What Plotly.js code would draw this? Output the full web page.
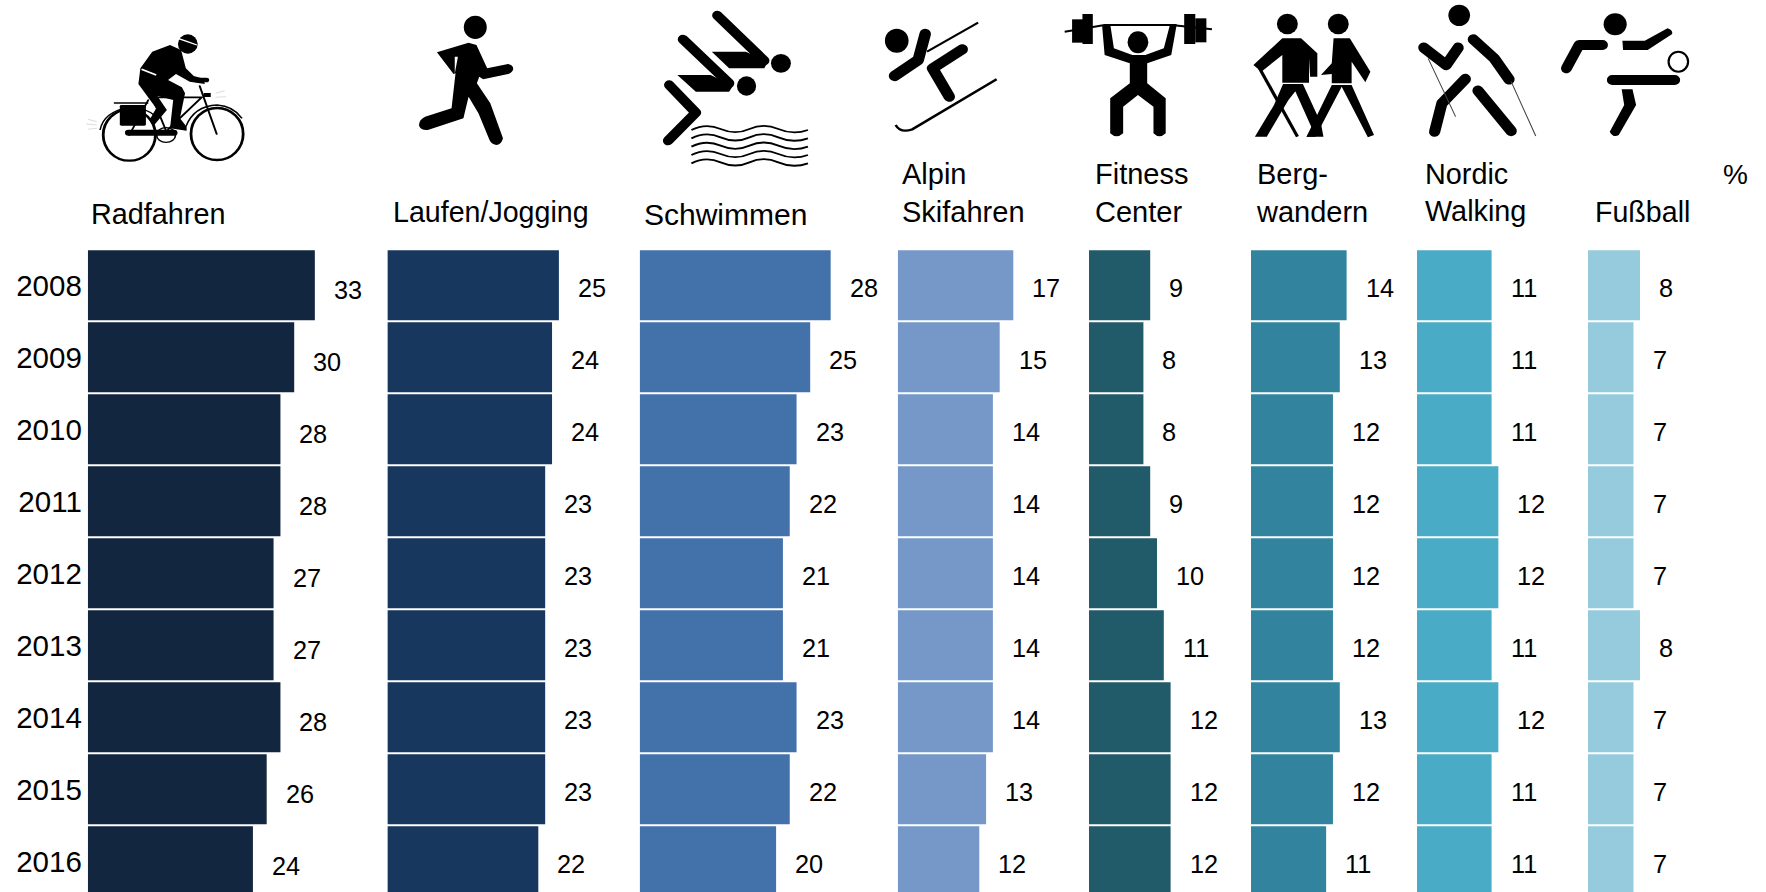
<!DOCTYPE html>
<html>
<head>
<meta charset="utf-8">
<script src="https://cdn.plot.ly/plotly-3.0.1.min.js"></script>
<style>html,body{margin:0;padding:0;background:#fff;overflow:hidden}</style>
</head>
<body>
<div id="chart" style="width:1766px;height:892px"></div>
<script>
const years = ['2008','2009','2010','2011','2012','2013','2014','2015','2016'];
const radfahren = [33,30,28,28,27,27,28,26,24];
const laufen = [25,24,24,23,23,23,23,23,22];
const schwimmen = [28,25,23,22,21,21,23,22,20];
const skifahren = [17,15,14,14,14,14,14,13,12];
const fitness = [9,8,8,9,10,11,12,12,12];
const bergwandern = [14,13,12,12,12,12,13,12,11];
const nordicWalking = [11,11,11,12,12,11,12,11,11];
const fussball = [8,7,7,7,7,8,7,7,7];
const seriesValues = [radfahren,laufen,schwimmen,skifahren,fitness,bergwandern,nordicWalking,fussball];
const seriesNames = ['Radfahren','Laufen/Jogging','Schwimmen','Alpin<br>Skifahren','Fitness<br>Center','Berg-<br>wandern','Nordic<br>Walking','Fußball'];
const colors = ['#12263F','#18375E','#4371A9','#7698C9','#215A68','#32849E','#4AABC6','#95CBDD'];

// layout geometry in page pixels
const W = 1766, H = 892, FONT = '"Liberation Sans", Arial, sans-serif';
const panelLeft = [87.8,387.4,639.7,897.7,1089,1251,1417,1588];
const pxPerUnit = [6.88,6.86,6.82,6.8,6.8,6.83,6.78,6.5];
const titleLeft = [90,392,643,901,1094,1255,1424,1594];
const titleMid = [214,212,214,192.5,192.5,192.5,192.5,212];
const titleSize = [28.8,28.6,30,29,29,29,28.8,28.6];
const labelDrop = [4.5,2.2,2.2,2.2,2.2,2.2,2.2,2.2];
const labelGap = 18;
const rowPitch = 72.0, plotTop = 249.3;

const traces = [], annotations = [];
const layout = {
  width: W, height: H, margin: {l:0,r:0,t:0,b:0,pad:0},
  paper_bgcolor:'#fff', plot_bgcolor:'rgba(0,0,0,0)', showlegend:false,
  bargap: 0.028, font:{family:FONT,color:'#000'},
  yaxis: {
    type:'category', categoryorder:'array', categoryarray:years,
    domain:[0,1-plotTop/H], range:[(H-plotTop)/rowPitch-0.5,-0.5],
    anchor:'x', ticks:'', showgrid:false, zeroline:false, showline:false,
    tickfont:{size:29.5,family:FONT,color:'#000'}, ticklabelstandoff:5, automargin:false
  }
};
seriesValues.forEach((vals,i)=>{
  const k = i===0?'':String(i+1);
  const max = Math.max(...vals)+2;
  layout['xaxis'+k] = {
    domain:[panelLeft[i]/W,(panelLeft[i]+max*pxPerUnit[i])/W], range:[0,max],
    anchor:'y', visible:false, fixedrange:true
  };
  traces.push({type:'bar',orientation:'h',x:vals,y:years,xaxis:'x'+k,yaxis:'y',
    marker:{color:colors[i],line:{width:0}},hoverinfo:'skip'});
  vals.forEach((v,j)=>annotations.push({
    xref:'x'+k,yref:'y',x:v,y:j,text:String(v),showarrow:false,
    xanchor:'left',yanchor:'middle',xshift:labelGap,yshift:-labelDrop[i],borderpad:0,
    font:{size:25.3,family:FONT,color:'#000'}
  }));
  annotations.push({
    xref:'paper',yref:'paper',x:titleLeft[i]/W,y:1-titleMid[i]/H,text:seriesNames[i],
    showarrow:false,xanchor:'left',yanchor:'middle',align:'left',borderpad:0,
    font:{size:titleSize[i],family:FONT,color:'#000'}
  });
});
annotations.push({xref:'paper',yref:'paper',x:1735/W,y:1-174/H,text:'%',showarrow:false,
  xanchor:'center',yanchor:'middle',borderpad:0,font:{size:28,family:FONT,color:'#000'}});
layout.annotations = annotations;

// pictograms: each group is drawn in the coordinates of a view with its own origin/scale
const round = 'fill="none" stroke="#000" stroke-linecap="round" stroke-linejoin="round"';
const pictograms = [
 {ox:0,fx:2.529,body:`
  <ellipse cx="327" cy="405" rx="66" ry="77" fill="none" stroke="#000" stroke-width="7"/>
  <ellipse cx="549" cy="402" rx="66" ry="78" fill="none" stroke="#000" stroke-width="7"/>
  <path d="M253 390 Q262 335 327 322 Q370 322 395 350" fill="none" stroke="#000" stroke-width="4"/>
  <path d="M470 380 Q490 318 549 315 Q590 318 612 355" fill="none" stroke="#000" stroke-width="4"/>
  <rect x="303" y="315" width="66" height="62" rx="4" fill="#000"/>
  <path d="M288 309 H375" stroke="#000" stroke-width="5"/>
  <path d="M378 292 H510 M510 292 L425 388 M385 292 L420 392 M505 258 L548 402 M375 300 L327 405 M320 395 L420 395" ${round} stroke-width="5"/>
  <path d="M325 398 H440" ${round} stroke-width="18"/>
  <ellipse cx="420" cy="405" rx="24" ry="22" fill="none" stroke="#000" stroke-width="4"/>
  <path d="M498 240 H522" ${round} stroke-width="14"/>
  <path d="M515 285 H533" stroke="#000" stroke-width="12"/>
  <path d="M430 135 L458 150 L470 205 L490 228 L515 236 L518 252 L480 245 L445 222 L425 240 L460 262 L468 280 L455 355 L472 380 L472 392 L430 385 L438 300 L398 288 L422 330 L388 378 L378 360 L395 325 L350 252 L355 205 L385 155 Z" fill="#000"/>
  <path d="M358 208 L395 225" stroke="#fff" stroke-width="5"/>
  <ellipse cx="475" cy="132" rx="25" ry="29" fill="#000"/>
  <path d="M450 115 Q475 125 498 135" fill="none" stroke="#fff" stroke-width="4"/>
  <path d="M222 358 L245 365 M218 372 L245 375 M222 388 L245 385 M545 280 L568 272 M545 292 L572 290" stroke="#ddd" stroke-width="3"/>

  <ellipse cx="1202" cy="82" rx="29" ry="35" fill="#000"/>
  <path d="M1105 157 L1185 128 L1205 135 L1232 205 L1285 192 Q1298 195 1298 207 Q1296 218 1285 222 L1222 238 L1212 230 L1206 250 L1240 310 L1272 415 Q1268 435 1255 435 Q1242 432 1238 420 L1210 340 L1185 290 L1172 355 L1082 390 Q1065 392 1060 378 Q1058 360 1075 350 L1142 325 L1152 220 L1147 222 Z" fill="#000"/>
  <path d="M1150 170 L1158 170 L1150 222" fill="#fff"/>
 `},
 {ox:620,fx:2.703,body:`
  <path d="M263 46 L390 182 M170 118 L295 250 M133 255 L205 338 L130 422" ${round} stroke-width="28"/>
  <path d="M248 155 H340 L400 185 L390 205 H295 Z M155 225 H245 L305 258 L295 275 H205 Z" fill="#000"/>
  <ellipse cx="435" cy="190" rx="27" ry="28" fill="#000"/>
  <ellipse cx="342" cy="258" rx="26" ry="29" fill="#000"/>
  <g fill="none" stroke="#000" stroke-width="5.5">
   <path d="M193 390 Q232 368 272 387 T350 387 T428 387 T508 390"/>
   <path d="M193 415 Q232 393 272 412 T350 412 T428 412 T508 415"/>
   <path d="M193 440 Q232 418 272 437 T350 437 T428 437 T508 440"/>
   <path d="M193 465 Q232 443 272 462 T350 462 T428 462 T508 465"/>
   <path d="M193 490 Q232 468 272 487 T350 487 T428 487 T508 490"/>
  </g>

  <ellipse cx="748" cy="122" rx="32" ry="36" fill="#000"/>
  <path d="M825 102 L806 180 L742 228 M925 148 L845 205 L890 290" ${round} stroke-width="31"/>
  <path d="M830 155 L968 68" stroke="#000" stroke-width="6"/>
  <path d="M745 375 Q758 400 790 388 L1018 238" fill="none" stroke="#000" stroke-width="7"/>

  <path d="M1202 95 L1310 75 H1490 L1600 88" fill="none" stroke="#000" stroke-width="6"/>
  <rect x="1222" y="58" width="30" height="70" fill="#000"/><rect x="1250" y="42" width="28" height="90" fill="#000"/>
  <rect x="1525" y="42" width="30" height="90" fill="#000"/><rect x="1555" y="55" width="30" height="72" fill="#000"/>
  <ellipse cx="1400" cy="127" rx="28" ry="33" fill="#000"/>
  <path d="M1303 75 L1325 72 L1335 145 L1385 165 H1420 L1470 145 L1487 72 L1505 72 L1490 165 L1425 190 V250 L1475 295 V400 Q1458 418 1442 400 V320 L1400 285 L1360 320 V400 Q1342 418 1325 400 V295 L1378 250 V190 L1310 165 Z" fill="#000"/>
 `},
 {ox:1200,fx:2.77,body:`
  <ellipse cx="242" cy="72" rx="29" ry="31" fill="#000"/><ellipse cx="383" cy="72" rx="29" ry="31" fill="#000"/>
  <path d="M228 115 H280 L325 160 V230 H305 L302 175 V248 H228 V165 L170 215 L148 195 Z" fill="#000"/>
  <path d="M230 252 H280 L245 300 L185 410 H152 L205 315 Z M255 252 H285 L335 370 L342 410 H295 L310 385 Z" fill="#000"/>
  <path d="M165 205 L270 410" stroke="#000" stroke-width="9"/>
  <path d="M370 115 H415 L472 215 L458 247 L420 185 V250 H365 V222 L335 225 L365 190 Z" fill="#000"/>
  <path d="M365 255 H395 L320 410 H295 Z M390 255 H420 L482 405 L465 412 Z" fill="#000"/>

  <ellipse cx="718" cy="46" rx="30" ry="32" fill="#000"/>
  <path d="M757 118 L815 175 L856 238 M620 143 L682 195 L715 143 M735 237 L670 310 L650 395 M770 272 L862 393" ${round} stroke-width="31"/>
  <path d="M632 175 L708 350 M862 245 L930 408" stroke="#444" stroke-width="3"/>

  <ellipse cx="1150" cy="73" rx="32" ry="33" fill="#000"/>
  <path d="M1170 122 H1232 L1295 85 Q1310 90 1308 102 L1240 150 H1172 Z" fill="#000"/>
  <path d="M1115 135 H1050 L1015 205 M1142 240 H1315" ${round} stroke-width="30"/>
  <path d="M1168 268 H1198 L1208 315 L1160 405 Q1145 415 1135 395 L1175 315 Z" fill="#000"/>
  <ellipse cx="1325" cy="185" rx="27" ry="30" fill="none" stroke="#000" stroke-width="6"/>
 `}
];
const VW = 2000, VH = 990;
layout.images = pictograms.map(p=>{
  const svg = `<svg xmlns="http://www.w3.org/2000/svg" width="${VW}" height="${VH}" viewBox="0 0 ${VW} ${VH}" preserveAspectRatio="none">${p.body}</svg>`;
  return {
    source:'data:image/svg+xml;charset=utf-8,'+encodeURIComponent(svg),
    xref:'paper',yref:'paper',x:p.ox/W,y:1,
    sizex:(VW/p.fx)/W,sizey:(VH/3)/H,
    xanchor:'left',yanchor:'top',sizing:'stretch',layer:'above'
  };
});
Plotly.newPlot('chart',traces,layout,{displayModeBar:false,staticPlot:true});
</script>
</body>
</html>
